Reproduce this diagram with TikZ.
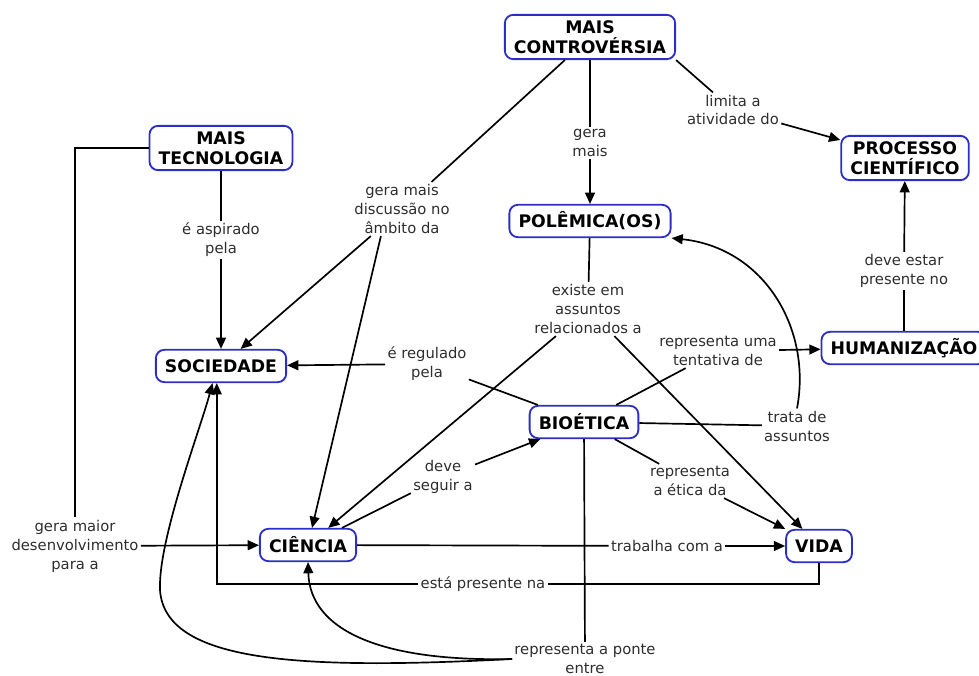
\documentclass[tikz,border=0pt]{standalone}
\usepackage{fontspec}
\setmainfont{DejaVu Sans}
\usetikzlibrary{arrows.meta}
\definecolor{cmapblue}{RGB}{45,45,200}
\definecolor{cmaptext}{RGB}{45,45,45}
\tikzset{
  conceptstyle/.style={rectangle, rounded corners=6pt, draw=cmapblue, line width=1.3pt,
    fill=white, minimum height=23pt, inner xsep=6.5pt, inner ysep=4pt, align=center,
    font=\fontsize{12.3}{14.2}\selectfont\bfseries},
  phrasestyle/.style={inner sep=1.5pt, align=center, text=cmaptext,
    font=\fontsize{10.5}{13.5}\selectfont},
  linestyle/.style={black, line width=1.2pt},
  arrowstyle/.style={-{Triangle[length=8pt,width=7pt]}, black, line width=1.2pt}
}

\begin{document}
\begin{tikzpicture}[x=0.025cm, y=-0.025cm]
  \useasboundingbox (0,0) rectangle (979,676);
  \node[conceptstyle] (contro) at (590,37) {MAIS\\CONTROVÉRSIA};
  \node[conceptstyle] (tecno) at (221,148) {MAIS\\TECNOLOGIA};
  \node[conceptstyle] (processo) at (905,158) {PROCESSO\\CIENTÍFICO};
  \node[conceptstyle] (polemica) at (590,221) {POLÊMICA(OS)};
  \node[conceptstyle] (sociedade) at (221,366) {SOCIEDADE};
  \node[conceptstyle] (humaniz) at (904,348) {HUMANIZAÇÃO};
  \node[conceptstyle] (bioetica) at (584,422) {BIOÉTICA};
  \node[conceptstyle] (ciencia) at (308,545) {CIÊNCIA};
  \node[conceptstyle] (vida) at (819,546) {VIDA};
  \node[phrasestyle] (limita) at (733,110) {limita a\\atividade do};
  \node[phrasestyle] (geramais) at (590,143) {gera\\mais};
  \node[phrasestyle] (discussao) at (402,209) {gera mais\\discussão no\\âmbito da};
  \node[phrasestyle] (aspirado) at (221,240) {é aspirado\\pela};
  \node[phrasestyle] (presente) at (904,271) {deve estar\\presente no};
  \node[phrasestyle] (existe) at (588,309) {existe em\\assuntos\\relacionados a};
  \node[phrasestyle] (tentativa) at (718,351) {representa uma\\tentativa de};
  \node[phrasestyle] (regulado) at (427,364) {é regulado\\pela};
  \node[phrasestyle] (trata) at (797,426) {trata de\\assuntos};
  \node[phrasestyle] (seguir) at (443,477) {deve\\seguir a};
  \node[phrasestyle] (etica) at (690,481) {representa\\a ética da};
  \node[phrasestyle] (desenv) at (75,546) {gera maior\\desenvolvimento\\para a};
  \node[phrasestyle] (trabalha) at (667,546) {trabalha com a};
  \node[phrasestyle] (estana) at (483,584) {está presente na};
  \node[phrasestyle] (ponte) at (585,659) {representa a ponte\\entre};
  \draw[linestyle] (contro.south east) -- (limita);
  \draw[arrowstyle] (limita) -- (processo);
  \draw[linestyle] (contro) -- (geramais);
  \draw[arrowstyle] (geramais) -- (polemica);
  \draw[linestyle] (contro) -- (discussao);
  \draw[arrowstyle] (discussao) -- (sociedade);
  \draw[arrowstyle] ([xshift=-15pt]discussao.south) -- (ciencia);
  \draw[linestyle] (tecno) -- (aspirado);
  \draw[arrowstyle] (aspirado) -- (sociedade);
  \draw[linestyle] (tecno.west) -| (desenv.north);
  \draw[arrowstyle] (desenv) -- (ciencia);
  \draw[linestyle] (humaniz) -- (presente);
  \draw[arrowstyle] (presente) -- (processo);
  \draw[linestyle] (polemica) -- (existe);
  \draw[arrowstyle] (existe) -- (ciencia);
  \draw[arrowstyle] (existe) -- (vida);
  \draw[linestyle] (bioetica) -- (tentativa);
  \draw[arrowstyle] (tentativa) -- (humaniz);
  \draw[linestyle] (bioetica) -- (regulado);
  \draw[arrowstyle] (regulado) -- (sociedade);
  \draw[linestyle] (bioetica) -- (trata);
  \draw[arrowstyle] (trata.north) .. controls (812,330) and (765,248) .. (polemica.south east);
  \draw[linestyle] (bioetica) -- (etica);
  \draw[arrowstyle] (etica) -- (vida.north west);
  \draw[linestyle] (ciencia) -- (seguir);
  \draw[arrowstyle] (seguir) -- (bioetica);
  \draw[linestyle] (ciencia) -- (trabalha);
  \draw[arrowstyle] (trabalha) -- (vida);
  \draw[linestyle] (vida.south) |- (estana);
  \draw[arrowstyle] (estana) -| ([xshift=-3pt]sociedade.south);
  \draw[linestyle] (bioetica) -- (ponte);
  \draw[arrowstyle] (ponte.west) .. controls (380,662) and (310,630) .. (ciencia.south);
  \draw[arrowstyle] (ponte.west) .. controls (300,670) and (165,663) .. (160,590)
    .. controls (158,540) and (200,430) .. ([xshift=-6pt]sociedade.south);
\end{tikzpicture}
\end{document}
